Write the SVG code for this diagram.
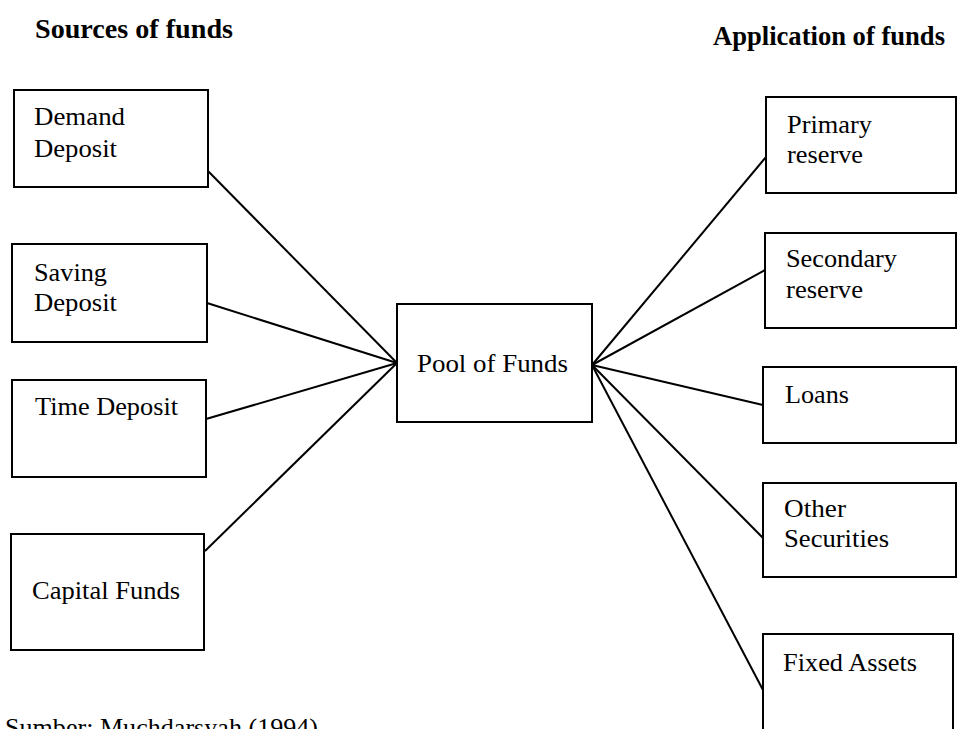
<svg xmlns="http://www.w3.org/2000/svg" width="957" height="729" viewBox="0 0 957 729">
<style>
.box{fill:#fff;stroke:#000;stroke-width:2}
.t{font-family:"Liberation Serif","Times New Roman",serif;font-size:26px;fill:#000}
.h{font-family:"Liberation Serif","Times New Roman",serif;font-size:27px;font-weight:bold;fill:#000}
.c{stroke:#000;stroke-width:2;fill:none}
</style>
<rect width="957" height="729" fill="#fff"/>
<text class="h" x="35" y="38" textLength="198" lengthAdjust="spacingAndGlyphs">Sources of funds</text>
<text class="h" x="713" y="45" textLength="232" lengthAdjust="spacingAndGlyphs">Application of funds</text>
<g id="connectors">
<line class="c" x1="208" y1="171" x2="397" y2="363"/>
<line class="c" x1="207" y1="303" x2="397" y2="363"/>
<line class="c" x1="206" y1="419" x2="397" y2="363"/>
<line class="c" x1="205" y1="551" x2="397" y2="363"/>
<line class="c" x1="592" y1="365" x2="766" y2="157"/>
<line class="c" x1="592" y1="365" x2="765" y2="270"/>
<line class="c" x1="592" y1="365" x2="763" y2="405"/>
<line class="c" x1="592" y1="365" x2="763" y2="538"/>
<line class="c" x1="592" y1="365" x2="763" y2="690"/>
</g>
<g id="demand"><rect class="box" x="14" y="90" width="194" height="97"/><text class="t" x="34" y="125" textLength="91" lengthAdjust="spacingAndGlyphs">Demand</text><text class="t" x="34" y="157" textLength="83" lengthAdjust="spacingAndGlyphs">Deposit</text></g>
<g id="saving"><rect class="box" x="12" y="244" width="195" height="98"/><text class="t" x="34" y="281" textLength="73" lengthAdjust="spacingAndGlyphs">Saving</text><text class="t" x="34" y="311" textLength="83" lengthAdjust="spacingAndGlyphs">Deposit</text></g>
<g id="time"><rect class="box" x="12" y="380" width="194" height="97"/><text class="t" x="35" y="415" textLength="143" lengthAdjust="spacingAndGlyphs">Time Deposit</text></g>
<g id="capital"><rect class="box" x="11" y="534" width="193" height="116"/><text class="t" x="32" y="599" textLength="148" lengthAdjust="spacingAndGlyphs">Capital Funds</text></g>
<g id="pool"><rect class="box" x="397" y="304" width="195" height="118"/><text class="t" x="417" y="372" textLength="151" lengthAdjust="spacingAndGlyphs">Pool of Funds</text></g>
<g id="primary"><rect class="box" x="766" y="97" width="190" height="96"/><text class="t" x="787" y="133" textLength="85" lengthAdjust="spacingAndGlyphs">Primary</text><text class="t" x="787" y="163" textLength="76" lengthAdjust="spacingAndGlyphs">reserve</text></g>
<g id="secondary"><rect class="box" x="765" y="233" width="191" height="95"/><text class="t" x="786" y="267" textLength="111" lengthAdjust="spacingAndGlyphs">Secondary</text><text class="t" x="786" y="298" textLength="77" lengthAdjust="spacingAndGlyphs">reserve</text></g>
<g id="loans"><rect class="box" x="763" y="367" width="193" height="76"/><text class="t" x="785" y="403" textLength="64" lengthAdjust="spacingAndGlyphs">Loans</text></g>
<g id="other"><rect class="box" x="763" y="483" width="193" height="94"/><text class="t" x="784" y="517" textLength="62" lengthAdjust="spacingAndGlyphs">Other</text><text class="t" x="784" y="547" textLength="105" lengthAdjust="spacingAndGlyphs">Securities</text></g>
<g id="fixed"><rect class="box" x="763" y="634" width="190" height="110"/><text class="t" x="783" y="671" textLength="134" lengthAdjust="spacingAndGlyphs">Fixed Assets</text></g>
<text class="t" x="5" y="736" textLength="313" lengthAdjust="spacingAndGlyphs">Sumber: Muchdarsyah (1994)</text>
</svg>
